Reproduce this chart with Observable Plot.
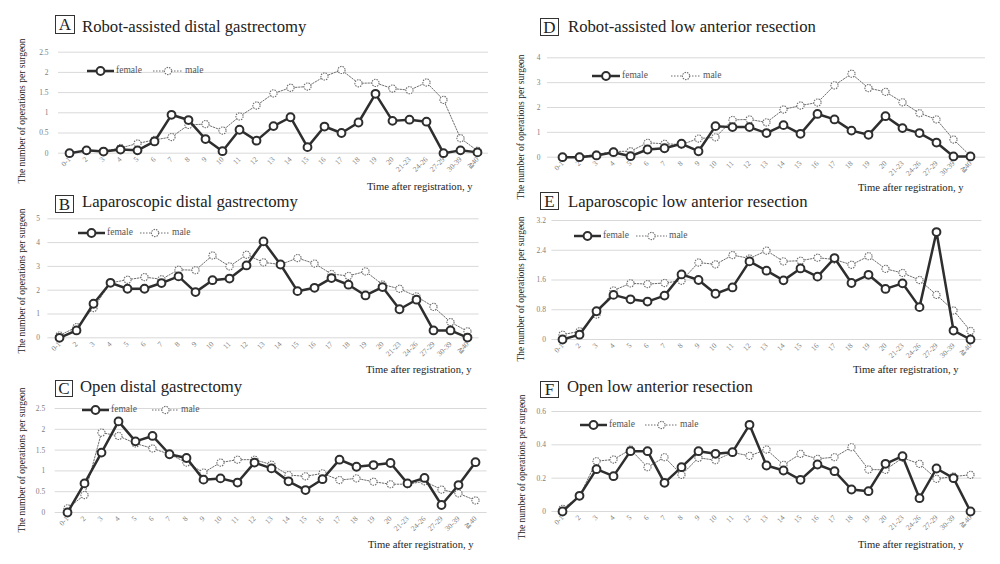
<!DOCTYPE html>
<html>
<head>
<meta charset="utf-8">
<script src="https://cdn.jsdelivr.net/npm/d3@7"></script>
<script src="https://cdn.jsdelivr.net/npm/@observablehq/plot@0.6"></script>
<style>
  html, body { margin: 0; padding: 0; background: #fff; }
  #root { position: relative; width: 1000px; height: 564px; overflow: hidden; font-family: "Liberation Serif", "Times New Roman", serif; }
  .box { position: absolute; border: 1px solid #333; box-sizing: border-box; font-size: 17px; text-align: center; color: #222; }
  .title { position: absolute; font-size: 16.7px; color: #222; white-space: nowrap; line-height: 1; }
  .ylab { position: absolute; font-size: 9.5px; color: #222; white-space: nowrap; transform: translate(-50%, -50%) rotate(-90deg); line-height: 1; }
  .xlab { position: absolute; font-size: 10.6px; color: #222; white-space: nowrap; line-height: 1; }
  .leg { position: absolute; font-size: 9.5px; color: #555; white-space: nowrap; line-height: 1; }
</style>
</head>
<body>
<div id="root"></div>
<script>
// ---- Data ----
const categories = ["0-1","2","3","4","5","6","7","8","9","10","11","12","13","14","15","16","17","18","19","20","21-23","24-26","27-29","30-39","≧40"];

const femaleA = [0,0.07,0.04,0.09,0.07,0.29,0.95,0.82,0.35,0.05,0.58,0.31,0.67,0.89,0.15,0.66,0.5,0.76,1.47,0.8,0.83,0.78,0,0.07,0.02];
const maleA   = [0,0.07,0.05,0.13,0.24,0.33,0.4,0.7,0.72,0.56,0.91,1.18,1.48,1.62,1.65,1.9,2.06,1.73,1.74,1.6,1.56,1.75,1.32,0.37,0.06];

const femaleB = [0,0.31,1.43,2.31,2.06,2.06,2.3,2.58,1.92,2.42,2.49,3.04,4.05,3.08,1.96,2.1,2.51,2.23,1.78,2.13,1.2,1.6,0.31,0.31,0.01];
const maleB   = [0.1,0.45,1.25,2.31,2.44,2.55,2.46,2.86,2.84,3.46,3.0,3.49,3.17,3.08,3.35,3.12,2.68,2.6,2.79,2.24,2.06,1.74,1.3,0.66,0.27];

const femaleC = [0,0.7,1.44,2.19,1.71,1.84,1.4,1.31,0.79,0.82,0.72,1.2,1.06,0.75,0.54,0.8,1.27,1.1,1.14,1.19,0.7,0.83,0.18,0.66,1.21];
const maleC   = [0.1,0.42,1.92,1.84,1.66,1.54,1.4,1.2,0.96,1.2,1.27,1.27,1.15,0.9,0.87,0.94,0.78,0.82,0.74,0.68,0.68,0.75,0.55,0.46,0.29];

const femaleD = [0,0,0.07,0.2,0.04,0.31,0.36,0.54,0.24,1.25,1.21,1.21,0.97,1.29,0.94,1.74,1.52,1.07,0.9,1.65,1.17,0.97,0.59,0.03,0.03];
const maleD   = [0,0.03,0.11,0.23,0.24,0.58,0.54,0.51,0.75,0.8,1.5,1.52,1.4,1.92,2.08,2.2,2.89,3.36,2.78,2.63,2.21,1.77,1.52,0.71,0.05];

const femaleE = [0,0.13,0.76,1.2,1.08,1.02,1.18,1.75,1.6,1.23,1.4,2.1,1.85,1.59,1.91,1.69,2.19,1.52,1.74,1.36,1.51,0.87,2.89,0.24,0];
const maleE   = [0.13,0.22,0.67,1.32,1.51,1.49,1.52,1.58,2.07,2.02,2.27,2.18,2.39,2.1,2.12,2.2,2.15,2.01,2.24,1.9,1.79,1.6,1.2,0.78,0.23];

const femaleF = [0,0.094,0.254,0.212,0.362,0.362,0.172,0.266,0.362,0.346,0.356,0.52,0.276,0.246,0.19,0.282,0.242,0.132,0.122,0.286,0.332,0.08,0.258,0.2,0];
const maleF   = [0.016,0.092,0.302,0.312,0.372,0.266,0.326,0.22,0.322,0.308,0.354,0.334,0.372,0.28,0.346,0.316,0.326,0.386,0.252,0.25,0.322,0.286,0.196,0.21,0.22];

const yTicksA = [0,0.5,1,1.5,2,2.5];
const yTicksB = [0,1,2,3,4,5];
const yTicksC = [0,0.5,1,1.5,2,2.5];
const yTicksD = [0,1,2,3,4];
const yTicksE = [0,0.8,1.6,2.4,3.2];
const yTicksF = [0,0.2,0.4,0.6];

const letters = ["A","B","C","D","E","F"];
const titles = ["Robot-assisted distal gastrectomy","Laparoscopic distal gastrectomy","Open distal gastrectomy","Robot-assisted low anterior resection","Laparoscopic low anterior resection","Open low anterior resection"];
const yAxisTitle = "The number of operations per surgeon";
const xAxisTitle = "Time after registration, y";
const seriesNames = ["female","male"];

// ---- Layout ----
const panels = [
  {female: femaleA, male: maleA, ticks: yTicksA, left: 0,   top: 40,  w: 500, h: 140.7, mL: 58,   mR: 12,   mT: 11.7, mB: 28, pad: 10,
   box: [55, 15, 20, 19], tx: 82, tBase: 33, ylab: [23, 111], xlab: [367, 190], leg: {y: 71, fx: 87, fw: 27, mx: 153, mw: 30}},
  {female: femaleB, male: maleB, ticks: yTicksB, left: 0,   top: 210, w: 500, h: 155.3, mL: 47.4, mR: 21.4, mT: 8.3,  mB: 28, pad: 8,
   box: [55, 195, 19, 18], tx: 82, tBase: 208, ylab: [23, 281], xlab: [366, 373], leg: {y: 233.3, fx: 78, fw: 27, mx: 140, mw: 30}},
  {female: femaleC, male: maleC, ticks: yTicksC, left: 0,   top: 400, w: 500, h: 140,   mL: 54.7, mR: 13.4, mT: 8,    mB: 28, pad: 10,
   box: [55, 380, 18, 17], tx: 80, tBase: 393, ylab: [23, 460], xlab: [368, 548], leg: {y: 409.7, fx: 82, fw: 27, mx: 152, mw: 27}},
  {female: femaleD, male: maleD, ticks: yTicksD, left: 500, top: 45,  w: 500, h: 139.7, mL: 47,   mR: 15,   mT: 12.3, mB: 28, pad: 7,
   box: [540, 18, 19, 18], tx: 568, tBase: 33, ylab: [522, 127], xlab: [858, 191], leg: {y: 76, fx: 592, fw: 28, mx: 671, mw: 30}},
  {female: femaleE, male: maleE, ticks: yTicksE, left: 500, top: 212, w: 500, h: 155,   mL: 51.4, mR: 18.7, mT: 8,    mB: 28, pad: 6,
   box: [540, 192, 19, 18], tx: 568, tBase: 208, ylab: [522, 289], xlab: [853, 373], leg: {y: 236, fx: 574, fw: 27, mx: 636, mw: 31}},
  {female: femaleF, male: maleF, ticks: yTicksF, left: 500, top: 403, w: 500, h: 136,   mL: 51.4, mR: 18.7, mT: 8,    mB: 28, pad: 6,
   box: [540, 381, 19, 17], tx: 567, tBase: 393, ylab: [523, 467], xlab: [858, 548], leg: {y: 425.3, fx: 580, fw: 27, mx: 645, mw: 33}}
];

const FEMALE = "#2e2e2e";
const MALE = "#6e6e6e";
const root = document.getElementById("root");
const fmt = d3.format("~g");

function el(cls, text, css) {
  const d = document.createElement("div");
  d.className = cls;
  if (text != null) d.textContent = text;
  Object.assign(d.style, css);
  root.appendChild(d);
  return d;
}

function legendSwatch(x, y, w, dashed) {
  const ns = "http://www.w3.org/2000/svg";
  const svg = document.createElementNS(ns, "svg");
  svg.setAttribute("width", w); svg.setAttribute("height", 12);
  svg.style.position = "absolute"; svg.style.left = x + "px"; svg.style.top = (y - 6) + "px";
  const line = document.createElementNS(ns, "line");
  line.setAttribute("x1", 0); line.setAttribute("x2", w); line.setAttribute("y1", 6); line.setAttribute("y2", 6);
  const c = document.createElementNS(ns, "circle");
  c.setAttribute("cx", w / 2); c.setAttribute("cy", 6); c.setAttribute("r", dashed ? 3.6 : 3.9);
  c.setAttribute("fill", "white");
  if (dashed) {
    line.setAttribute("stroke", MALE); line.setAttribute("stroke-width", 1); line.setAttribute("stroke-dasharray", "1.5,1.5");
    c.setAttribute("stroke", MALE); c.setAttribute("stroke-width", 1.1); c.setAttribute("stroke-dasharray", "1.5,1");
  } else {
    line.setAttribute("stroke", FEMALE); line.setAttribute("stroke-width", 2.5);
    c.setAttribute("stroke", FEMALE); c.setAttribute("stroke-width", 2);
  }
  svg.appendChild(line); svg.appendChild(c);
  root.appendChild(svg);
}

panels.forEach((p, i) => {
  const data = categories.map((c, k) => ({c, f: p.female[k], m: p.male[k]}));
  const ymax = p.ticks[p.ticks.length - 1];
  const chart = Plot.plot({
    width: p.w, height: p.h,
    marginLeft: p.mL, marginRight: p.mR, marginTop: p.mT, marginBottom: p.mB,
    x: {type: "point", domain: categories, padding: 0.5, label: null},
    y: {domain: [0, ymax], label: null},
    style: {fontFamily: '"Liberation Serif", "Times New Roman", serif', fontSize: "7.5px", color: "#808080", background: "transparent", overflow: "visible"},
    marks: [
      Plot.gridY(p.ticks, {stroke: "#d9d9d9", strokeOpacity: 1, strokeWidth: 1}),
      Plot.axisY(p.ticks, {tickSize: 0, tickPadding: p.pad, label: null, fill: "#808080", tickFormat: fmt}),
      Plot.axisX({tickSize: 0, tickRotate: -45, tickPadding: 5, label: null, fill: "#808080"}),
      Plot.line(data, {x: "c", y: "m", stroke: MALE, strokeWidth: 1, strokeDasharray: "1.5,1.5"}),
      Plot.dot(data, {x: "c", y: "m", r: 3.6, fill: "white", stroke: MALE, strokeWidth: 1.1, strokeDasharray: "1.5,1"}),
      Plot.line(data, {x: "c", y: "f", stroke: FEMALE, strokeWidth: 2.5}),
      Plot.dot(data, {x: "c", y: "f", r: 3.9, fill: "white", stroke: FEMALE, strokeWidth: 2})
    ]
  });
  chart.style.position = "absolute";
  chart.style.left = p.left + "px";
  chart.style.top = p.top + "px";
  root.appendChild(chart);

  // titles
  el("box", letters[i], {left: p.box[0] + "px", top: p.box[1] + "px", width: p.box[2] + "px", height: p.box[3] + "px", lineHeight: (p.box[3] - 1) + "px"});
  el("title", titles[i], {left: p.tx + "px", top: (p.tBase - 14) + "px"});
  el("ylab", yAxisTitle, {left: p.ylab[0] + "px", top: p.ylab[1] + "px"});
  el("xlab", xAxisTitle, {left: p.xlab[0] + "px", top: (p.xlab[1] - 8) + "px"});

  // legend
  const L = p.leg;
  legendSwatch(L.fx, L.y, L.fw, false);
  el("leg", seriesNames[0], {left: (L.fx + L.fw + 2) + "px", top: (L.y - 5) + "px"});
  legendSwatch(L.mx, L.y, L.mw, true);
  el("leg", seriesNames[1], {left: (L.mx + L.mw + 2) + "px", top: (L.y - 5) + "px"});
});
</script>
</body>
</html>
